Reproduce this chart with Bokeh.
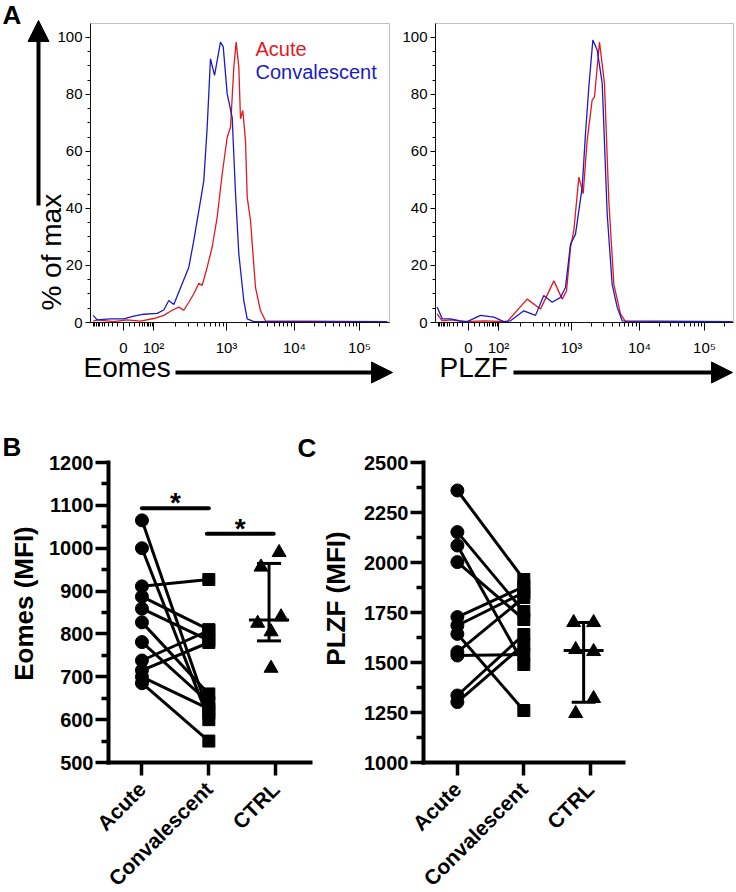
import math
from bokeh.plotting import figure
from bokeh.layouts import column, row
from bokeh.models import (FixedTicker, CustomJSTickFormatter, Label, Arrow,
                          NormalHead, Range1d, BoxAnnotation)
from bokeh.embed import file_html
from bokeh.resources import INLINE

# ---------------- data ----------------
# Panel A: flow-cytometry histograms. x = position on the biexponential
# display axis (10^3 -> 3.0), y = % of max
eomes_acute_x = [1.096, 1.153, 1.39, 1.58, 1.771, 1.961, 2.104, 2.224, 2.319, 2.39, 2.462,
                 2.533, 2.605, 2.653, 2.724, 2.795, 2.867, 2.939, 3.01, 3.057, 3.105, 3.138,
                 3.176, 3.2, 3.233, 3.271, 3.296, 3.343, 3.414, 3.486, 3.557, 5.296]
eomes_acute_y = [0.5, 0.9, 0.3, 0.9, 0.5, 1.4, 2.5, 4.3, 5.4, 4.3, 7.1,
                 10.1, 13.8, 13.0, 19.4, 26.4, 37.0, 52.2, 65.0, 68.5, 89.6, 98.4,
                 89.6, 71.5, 74.4, 63.9, 43.9, 35.8, 12.3, 4.1, 0.6, 0.3]
eomes_conv_x = [1.096, 1.153, 1.343, 1.533, 1.676, 1.819, 2.01, 2.104, 2.176, 2.247, 2.367,
                2.462, 2.533, 2.581, 2.629, 2.676, 2.724, 2.771, 2.829, 2.914, 2.953, 3.01,
                3.081, 3.129, 3.176, 3.247, 3.296, 3.39, 5.296]
eomes_conv_y = [2.5, 0.9, 1.3, 1.3, 2.2, 2.9, 3.2, 4.4, 7.7, 6.3, 13.6,
                19.4, 28.8, 35.8, 42.8, 49.8, 68.5, 92.5, 86.7, 98.4, 96.8, 80.2,
                72.0, 45.2, 24.1, 7.7, 1.3, 0.3, 0.3]
plzf_acute_x = [1.081, 1.153, 1.271, 1.462, 1.748, 2.081, 2.367, 2.557, 2.748, 2.867, 2.929,
                2.986, 3.033, 3.105, 3.167, 3.224, 3.295, 3.329, 3.4, 3.471, 3.533, 3.605,
                3.7, 3.771, 5.3]
plzf_acute_y = [3.0, 0.6, 0.9, 0.3, 0.6, 0.3, 8.2, 4.7, 14.6, 8.2, 11.1,
                26.3, 32.2, 51.0, 45.2, 63.9, 78.0, 79.2, 98.4, 83.9, 42.8, 13.4,
                3.0, 0.3, 0.3]
plzf_conv_x = [1.081, 1.153, 1.271, 1.414, 1.51, 1.7, 1.89, 2.033, 2.129, 2.319, 2.486,
               2.604, 2.724, 2.843, 2.914, 2.986, 3.057, 3.153, 3.2, 3.248, 3.305, 3.367,
               3.439, 3.51, 3.581, 3.653, 3.724, 5.3]
plzf_conv_y = [5.4, 1.3, 1.3, 0.6, 0.3, 2.5, 1.9, 0.3, 0.6, 4.1, 2.5,
               9.5, 7.1, 8.8, 12.3, 27.5, 31.0, 47.5, 66.3, 82.7, 99.1, 95.6,
               83.9, 38.0, 13.4, 5.3, 0.6, 0.3]

hist_tick_pos = [1.529, 1.957, 3.0, 3.971, 4.9]
hist_tick_labels = ["0", "10²", "10³", "10⁴", "10⁵"]
hist_y_ticks = [0, 20, 40, 60, 80, 100]
series_names = ["Acute", "Convalescent"]

# Panels B and C: MFI values (paired by index)
groups = ["Acute", "Convalescent", "CTRL"]
eomes_acute = [1065, 1000, 911, 887, 859, 827, 781, 738, 715, 700, 685]
eomes_conv = [615, 600, 927, 810, 785, 660, 640, 808, 780, 625, 550]
eomes_ctrl = [990, 956, 840, 825, 805, 720]
plzf_acute = [2360, 2152, 2085, 2002, 1727, 1685, 1643, 1552, 1535, 1335, 1302]
plzf_conv = [1915, 1755, 1490, 1715, 1880, 1850, 1260, 1825, 1540, 1640, 1590]
plzf_ctrl = [1700, 1700, 1565, 1555, 1320, 1245]
eomes_ticks = [500, 600, 700, 800, 900, 1000, 1100, 1200]
plzf_ticks = [1000, 1250, 1500, 1750, 2000, 2250, 2500]

# ---------------- styling constants ----------------
RED = "#e3171d"
BLUE = "#1a1ac8"
FONT = "Liberation Sans"
ctrl_jitter_b = [0.15, -0.12, 0.18, -0.17, 0.03, 0.03]
ctrl_jitter_c = [-0.15, 0.15, -0.12, 0.15, 0.15, -0.12]
CTRL_POS = 2.9
BASE_FIX = 4   # px: rendered baselines sit a little high


def prism_quantile(vals, q):
    s = sorted(vals)
    n = len(s)
    pos = q * (n + 1)
    k = int(math.floor(pos))
    frac = pos - k
    if k < 1:
        return s[0]
    if k >= n:
        return s[-1]
    return s[k - 1] + frac * (s[k] - s[k - 1])


def make_fig(page_x0, page_y0, width, height, box_px, box_data):
    """Figure whose frame is the whole canvas; box_px (left, top, right, bottom) in
    page pixels corresponds to box_data (x_left, y_top, x_right, y_bottom)."""
    bx0, by0, bx1, by1 = box_px
    dx0, dy0, dx1, dy1 = box_data
    sx = (dx1 - dx0) / (bx1 - bx0)
    sy = (dy1 - dy0) / (by1 - by0)

    def fx(px):
        return dx0 + (px - bx0) * sx

    def fy(py):
        return dy0 + (py - by0) * sy

    p = figure(width=width, height=height,
               x_range=Range1d(fx(page_x0), fx(page_x0 + width)),
               y_range=Range1d(fy(page_y0 + height), fy(page_y0)),
               output_backend="svg", toolbar_location=None,
               min_border=0, min_border_left=0, min_border_right=0,
               min_border_top=0, min_border_bottom=0)
    p.title.visible = False
    p.outline_line_color = None
    p.xgrid.visible = False
    p.ygrid.visible = False
    p.background_fill_color = "white"
    p.border_fill_color = "white"
    return p, fx, fy


def hist_minor_ticks():
    p0, p2, p3, p4, p5 = hist_tick_pos
    dec = {2: (p2, p3), 3: (p3, p4), 4: (p4, p5), 5: (p5, p5 + (p5 - p4))}
    minors = []
    for k in (2, 3, 4):
        a, b = dec[k]
        for m in range(2, 10):
            minors.append(a + math.log10(m) * (b - a))
    a, b = dec[5]
    minors.append(a + math.log10(2) * (b - a))
    for v in range(10, 101, 10):
        g = math.asinh(v / 20) / math.asinh(5)
        if v < 100:
            minors.append(p0 + g * (p2 - p0))
        minors.append(p0 - g * (p2 - p0))
    return sorted(minors)


def style_hist(p, box):
    x0, x1, y0, y1 = box
    p.add_layout(BoxAnnotation(left=x0, right=x1, bottom=y0, top=y1, fill_alpha=0,
                               line_color="#333333", line_width=1))
    xa = p.xaxis[0]
    xa.fixed_location = y0
    xa.bounds = (x0, x1)
    xa.ticker = FixedTicker(ticks=hist_tick_pos, minor_ticks=hist_minor_ticks())
    xa.formatter = CustomJSTickFormatter(
        args=dict(pos=hist_tick_pos, labs=hist_tick_labels),
        code="const i = pos.findIndex((q) => Math.abs(q - tick) < 1e-6); return i >= 0 ? labs[i] : '';")
    xa.major_tick_out = 8
    xa.minor_tick_out = 4
    xa.major_label_standoff = 8
    ya = p.yaxis[0]
    ya.fixed_location = x0
    ya.bounds = (y0, y1)
    ya.ticker = FixedTicker(ticks=hist_y_ticks,
                            minor_ticks=[v for v in range(5, 101, 5) if v % 20])
    ya.major_tick_out = 5
    ya.minor_tick_out = 3
    ya.major_label_standoff = 3
    for ax in (xa, ya):
        ax.major_tick_in = 0
        ax.minor_tick_in = 0
        ax.axis_line_color = "black"
        ax.axis_line_width = 1
        ax.major_tick_line_color = "black"
        ax.minor_tick_line_color = "black"
        ax.major_label_text_font = FONT
        ax.major_label_text_font_size = "15px"
        ax.major_label_text_color = "black"


def big_arrow(x0, y0, x1, y1):
    return Arrow(x_start=x0, y_start=y0, x_end=x1, y_end=y1, line_width=4,
                 line_color="black",
                 end=NormalHead(size=21, fill_color="black", line_color="black",
                                line_width=1))


def text(fx, fy, px, py, s, size, bold=False, color="black", rotated=False, **kw):
    # px, py: anchor in page pixels (alphabetic baseline)
    if rotated:
        px, angle = px + 3, math.pi / 2
    else:
        py, angle = py + BASE_FIX, 0
    return Label(x=fx(px), y=fy(py), text=s, text_font=FONT, text_font_size=size,
                 text_font_style="bold" if bold else "normal", text_color=color,
                 angle=angle, **kw)


# ---------------- Panel A left (Eomes) ----------------
HIST_TOP = 104.912
a1, fx, fy = make_fig(0, 0, 400, 420, (90, 23, 389, 322), (1.05714, HIST_TOP, 5.32857, 0.0))
style_hist(a1, (1.05714, 5.32857, 0.0, HIST_TOP))
a1.line(eomes_acute_x, eomes_acute_y, line_color=RED, line_width=1.3)
a1.line(eomes_conv_x, eomes_conv_y, line_color=BLUE, line_width=1.3)
a1.add_layout(text(fx, fy, 255, 55, series_names[0], "20px", color=RED))
a1.add_layout(text(fx, fy, 255, 78.3, series_names[1], "20px", color=BLUE))
a1.add_layout(text(fx, fy, 2, 25, "A", "26px", bold=True))
a1.add_layout(big_arrow(fx(38), fy(205), fx(38), fy(20)))
a1.add_layout(text(fx, fy, 63, 251.7, "% of max", "28px", rotated=True,
                   text_align="center"))
a1.add_layout(text(fx, fy, 83, 378, "Eomes", "28px"))
a1.add_layout(big_arrow(fx(175), fy(372), fx(392), fy(372)))

# ---------------- Panel A right (PLZF) ----------------
a2, fx, fy = make_fig(400, 0, 334, 420, (435, 23, 733, 322), (1.05714, HIST_TOP, 5.31429, 0.0))
style_hist(a2, (1.05714, 5.31429, 0.0, HIST_TOP))
a2.line(plzf_acute_x, plzf_acute_y, line_color=RED, line_width=1.3)
a2.line(plzf_conv_x, plzf_conv_y, line_color=BLUE, line_width=1.3)
a2.add_layout(text(fx, fy, 439, 378, "PLZF", "28px"))
a2.add_layout(big_arrow(fx(513), fy(372), fx(732), fy(372)))


# ---------------- Panels B and C ----------------
def style_dot(p, yticks, box):
    x0, x1, y0, y1 = box
    ya = p.yaxis[0]
    ya.fixed_location = x0
    ya.bounds = (y0, y1)
    minors = [(yticks[i] + yticks[i + 1]) / 2 for i in range(len(yticks) - 1)]
    ya.ticker = FixedTicker(ticks=yticks, minor_ticks=minors)
    ya.minor_tick_out = 7
    ya.minor_tick_in = 0
    ya.minor_tick_line_width = 3.5
    ya.minor_tick_line_color = "black"
    xa = p.xaxis[0]
    xa.fixed_location = y0
    xa.bounds = (x0, x1)
    xa.ticker = FixedTicker(ticks=[1, 2, 3], minor_ticks=[])
    xa.formatter = CustomJSTickFormatter(
        args=dict(labs=groups), code="return labs[Math.round(tick) - 1];")
    xa.major_label_orientation = math.pi / 4
    for ax in (xa, ya):
        ax.axis_line_width = 4
        ax.axis_line_color = "black"
        ax.axis_line_cap = "square"
        ax.major_tick_out = 13
        ax.major_tick_in = 0
        ax.major_tick_line_width = 3.5
        ax.major_tick_line_color = "black"
        ax.major_label_text_font = FONT
        ax.major_label_text_font_style = "bold"
        ax.major_label_text_color = "black"
    ya.major_label_text_font_size = "20px"
    ya.major_label_standoff = 2
    xa.major_label_text_font_size = "21px"
    xa.major_label_standoff = 10


def draw_dots(p, acute, conv, ctrl, jitter):
    n = len(acute)
    p.segment(x0=[1] * n, y0=acute, x1=[2] * n, y1=conv, line_color="black",
              line_width=3)
    p.scatter(x=[1] * n, y=acute, marker="circle", size=13, color="black")
    p.scatter(x=[2] * n, y=conv, marker="square", size=12, color="black")
    p.scatter(x=[CTRL_POS + j for j in jitter], y=ctrl, marker="triangle", size=14,
              color="black")
    med = prism_quantile(ctrl, 0.5)
    q1 = prism_quantile(ctrl, 0.25)
    q3 = prism_quantile(ctrl, 0.75)
    p.segment(x0=[CTRL_POS, CTRL_POS - 0.18, CTRL_POS - 0.18, CTRL_POS - 0.3],
              y0=[q1, q1, q3, med],
              x1=[CTRL_POS, CTRL_POS + 0.18, CTRL_POS + 0.18, CTRL_POS + 0.3],
              y1=[q3, q1, q3, med], line_color="black", line_width=3)


b, fx, fy = make_fig(0, 420, 318, 470, (108, 462, 310, 762), (0.5, 1200, 3.52, 500))
style_dot(b, eomes_ticks, (0.5, 3.52, 500, 1200))
draw_dots(b, eomes_acute, eomes_conv, eomes_ctrl, ctrl_jitter_b)
# significance bars (x from, x to, y)
sig_bars = [(1.0, 2.0, 1093), (1.97, 2.97, 1034)]
b.segment(x0=[s[0] for s in sig_bars], y0=[s[2] for s in sig_bars],
          x1=[s[1] for s in sig_bars], y1=[s[2] for s in sig_bars],
          line_color="black", line_width=4, line_cap="round")
for xs, xe, yb in sig_bars:
    b.add_layout(Label(x=(xs + xe) / 2, y=yb - 11.67, y_offset=-5, text="*",
                       text_align="center", text_font=FONT, text_font_style="bold",
                       text_font_size="28px", text_color="black"))
b.add_layout(text(fx, fy, 2, 457, "B", "26px", bold=True))
b.add_layout(text(fx, fy, 297, 458, "C", "26px", bold=True))
b.add_layout(text(fx, fy, 35, 603, "Eomes (MFI)", "26px", bold=True, rotated=True,
                  text_align="center"))

c, fx, fy = make_fig(318, 420, 416, 470, (423, 462, 623, 762), (0.49, 2500, 3.5, 1000))
style_dot(c, plzf_ticks, (0.49, 3.5, 1000, 2500))
draw_dots(c, plzf_acute, plzf_conv, plzf_ctrl, ctrl_jitter_c)
c.add_layout(text(fx, fy, 347, 598, "PLZF (MFI)", "26px", bold=True, rotated=True,
                  text_align="center"))

layout = column(row(a1, a2), row(b, c))
open("out.html", "w").write(file_html(layout, INLINE))
